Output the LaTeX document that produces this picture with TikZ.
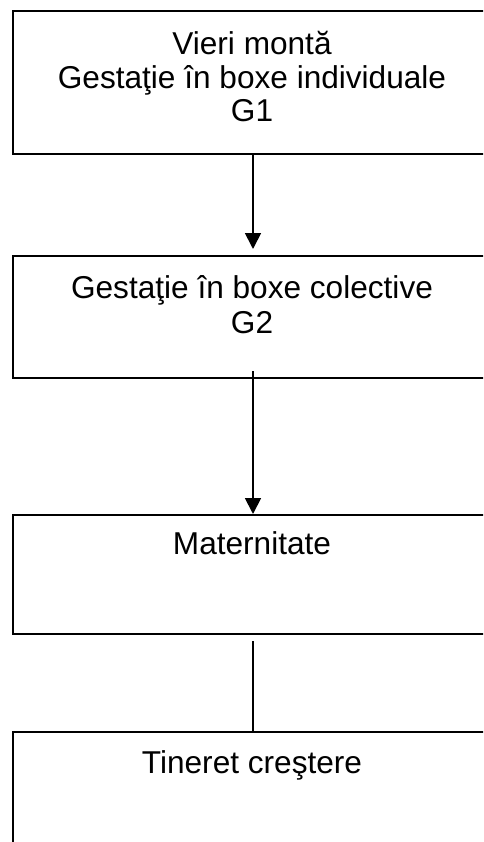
\documentclass[tikz,border=0pt]{standalone}
\usepackage{fontspec}
\setmainfont{Liberation Sans}
\usetikzlibrary{arrows.meta}
\begin{document}
\begin{tikzpicture}[x=1pt,y=-1pt,
  box/.style={draw, line width=2pt, rectangle, anchor=north west, minimum width=480pt, inner sep=0pt},
  lbl/.style={anchor=base, inner sep=0pt, font=\fontsize{31.6}{34}\selectfont},
  conn/.style={line width=1.8pt},
  arr/.style={conn, -{Triangle[width=16pt,length=16pt]}}]
\useasboundingbox (0,0) rectangle (483,842);
\clip (0,0) rectangle (483,842);
\node[box, minimum height=143pt] (b1) at (12,10) {};
\node[box, minimum height=122pt] (b2) at (12,255) {};
\node[box, minimum height=119pt] (b3) at (12,514) {};
\node[box, minimum height=140pt] (b4) at (12,731) {};
\node[lbl] (t1a) at (252,55) {Vieri montă};
\node[lbl] (t1b) at (252,89) {Gestaţie în boxe individuale};
\node[lbl] (t1c) at (252,122) {G1};
\node[lbl] (t2a) at (252,298) {Gestaţie în boxe colective};
\node[lbl] (t2b) at (252,333) {G2};
\node[lbl] (t3) at (252,554) {Maternitate};
\node[lbl] (t4) at (252,773) {Tineret creştere};
\coordinate (a1e) at ([yshift=6pt]b2.north);
\coordinate (a2s) at ([yshift=8pt]b2.south);
\coordinate (a3s) at ([yshift=-6pt]b3.south);
\draw[arr] (b1.south) -- (a1e);
\draw[arr] (a2s) -- (b3.north);
\draw[conn] (a3s) -- (b4.north);
\end{tikzpicture}
\end{document}
